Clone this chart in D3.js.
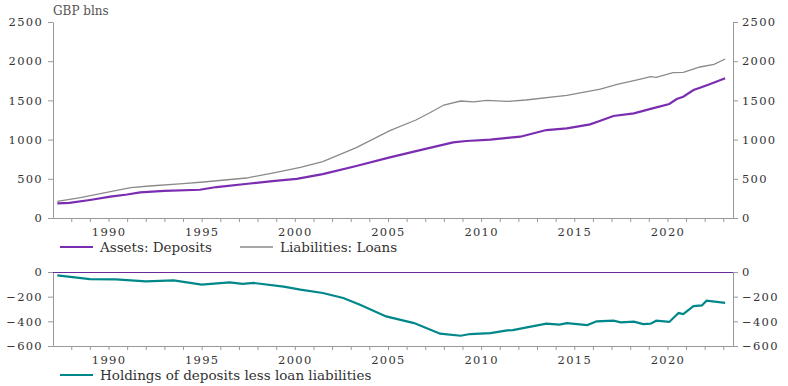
<!DOCTYPE html>
<html>
<head>
<meta charset="utf-8">
<script src="https://cdn.jsdelivr.net/npm/d3@7"></script>
<style>
  body { margin: 0; background: #fff; }
  svg { display: block; }
  text { font-family: "DejaVu Serif", serif; fill: #333; }
  .axis path, .axis line { stroke: #999; }
  .axis text { font-family: "DejaVu Serif", serif; font-size: 11.5px; letter-spacing: 1.3px; }
  .legend text { font-size: 13.5px; }
</style>
</head>
<body>
<svg id="chart" width="788" height="386"></svg>
<script>
// Top panel: household deposits and loans (GBP blns)
const depYears = [1987.25, 1987.9, 1989, 1990.1, 1991, 1991.7, 1993, 1994.9, 1995.8, 1997.6, 1998.8, 2000.1,
    2001.5, 2003.3, 2005.1, 2006.9, 2008.5, 2009.2, 2010.5, 2011.55, 2012.1, 2013.5, 2014.6, 2015.85,
    2016.4, 2017.1, 2018.2, 2019.2, 2020.1, 2020.5, 2020.85, 2021.4, 2021.75, 2022.3, 2023.1];
const deposits = [187, 192, 230, 272, 300, 327, 345, 360, 395, 440, 470, 500,
    560, 663, 774, 876, 965, 982, 999, 1025, 1037, 1122, 1144, 1195,
    1241, 1301, 1335, 1399, 1454, 1518, 1547, 1633, 1662, 1709, 1782];

const loanYears = [1987.25, 1988.5, 1990.1, 1991.2, 1992.2, 1994, 1995.1, 1997.4, 1999, 2000.3, 2001.5,
    2003.3, 2005.1, 2006.5, 2007.25, 2008, 2008.9, 2009.6, 2010.3, 2011.4, 2012.4, 2014.6, 2016.4,
    2017.3, 2018.5, 2019.1, 2019.4, 2020.3, 2020.85, 2021.75, 2022.5, 2023.1];
const loans = [213, 260, 336, 387, 408, 438, 459, 510, 583, 647, 720,
    897, 1114, 1250, 1343, 1441, 1492, 1480, 1501, 1488, 1505, 1565, 1645,
    1705, 1769, 1803, 1794, 1853, 1858, 1926, 1960, 2028];

// Bottom panel: deposits less loans
const diffYears = [1987.25, 1989, 1990.4, 1992, 1993.5, 1995, 1996.5, 1997.2, 1997.8, 1999.4, 2000.3,
    2001.5, 2002.6, 2003.5, 2004.9, 2006.4, 2007.8, 2008.9, 2009.4, 2010.5, 2011.4, 2011.7, 2013.5,
    2014.2, 2014.6, 2015.7, 2016.2, 2017.1, 2017.5, 2018.2, 2018.7, 2019.1, 2019.4, 2020.1, 2020.6,
    2020.85, 2021.4, 2021.85, 2022.1, 2023.1];
const diff = [-27, -57, -60, -76, -68, -103, -84, -97, -89, -119, -143,
    -170, -211, -265, -360, -414, -500, -517, -503, -495, -473, -471, -419,
    -427, -414, -430, -400, -395, -408, -403, -422, -419, -395, -405, -333,
    -341, -276, -271, -233, -251];

const topTicks = [0, 500, 1000, 1500, 2000, 2500];
const bottomTicks = [0, -200, -400, -600];
const yearLabels = [1990, 1995, 2000, 2005, 2010, 2015, 2020];

const purple = '#7a2db0', grey = '#8a8a8a', teal = '#00878a';

const svg = d3.select('#chart');
const left = 53, right = 733;

const x = d3.scaleLinear().domain([1987.02, 2023.52]).range([left, right]);
const yTop = d3.scaleLinear().domain([0, 2500]).range([218, 22]);
const yBot = d3.scaleLinear().domain([-600, 0]).range([346, 272]);

function drawPanel(y, ticks, y0) {
    svg.append('g').attr('class', 'axis')
        .attr('transform', `translate(${left},0)`)
        .call(d3.axisLeft(y).tickValues(ticks).tickSize(5).tickSizeOuter(0).tickPadding(5).tickFormat(d3.format('d')));
    svg.append('g').attr('class', 'axis')
        .attr('transform', `translate(${right},0)`)
        .call(d3.axisRight(y).tickValues(ticks).tickSize(5).tickSizeOuter(0).tickPadding(4).tickFormat(d3.format('d')));
    svg.append('g').attr('class', 'axis')
        .attr('transform', `translate(0,${y0})`)
        .call(d3.axisBottom(x).tickValues(d3.range(1988, 2024)).tickSize(4).tickSizeOuter(0)
            .tickPadding(6).tickFormat(d => yearLabels.includes(d) ? d : ''));
}

drawPanel(yTop, topTicks, 218);
drawPanel(yBot, bottomTicks, 346);

svg.append('text').attr('x', 53).attr('y', 15).style('font-size', '12px').style('fill', '#555').text('GBP blns');

const line = (yr, yScale) => d3.line().x((d, i) => x(yr[i])).y(d => yScale(d));

svg.append('path').datum(loans)
    .attr('d', line(loanYears, yTop))
    .attr('fill', 'none').attr('stroke', grey).attr('stroke-width', 1.3);
svg.append('path').datum(deposits)
    .attr('d', line(depYears, yTop))
    .attr('fill', 'none').attr('stroke', purple).attr('stroke-width', 2.2);

// zero line in bottom panel
svg.append('line')
    .attr('x1', left).attr('x2', right).attr('y1', yBot(0) + 0.5).attr('y2', yBot(0) + 0.5)
    .attr('stroke', '#6a2a9a').attr('stroke-width', 1)
    .attr('shape-rendering', 'crispEdges');

svg.append('path').datum(diff)
    .attr('d', line(diffYears, yBot))
    .attr('fill', 'none').attr('stroke', teal).attr('stroke-width', 2.2);

// legends
const legend = svg.append('g').attr('class', 'legend');
const items = [
    { label: 'Assets: Deposits', color: purple, w: 2.2, x: 60, y: 247 },
    { label: 'Liabilities: Loans', color: grey, w: 1.3, x: 240, y: 247 },
    { label: 'Holdings of deposits less loan liabilities', color: teal, w: 2.2, x: 60, y: 375 }
];
items.forEach(d => {
    legend.append('line').attr('x1', d.x).attr('x2', d.x + 33).attr('y1', d.y).attr('y2', d.y)
        .attr('stroke', d.color).attr('stroke-width', d.w);
    legend.append('text').attr('x', d.x + 40).attr('y', d.y + 4.5).text(d.label);
});
</script>
</body>
</html>
